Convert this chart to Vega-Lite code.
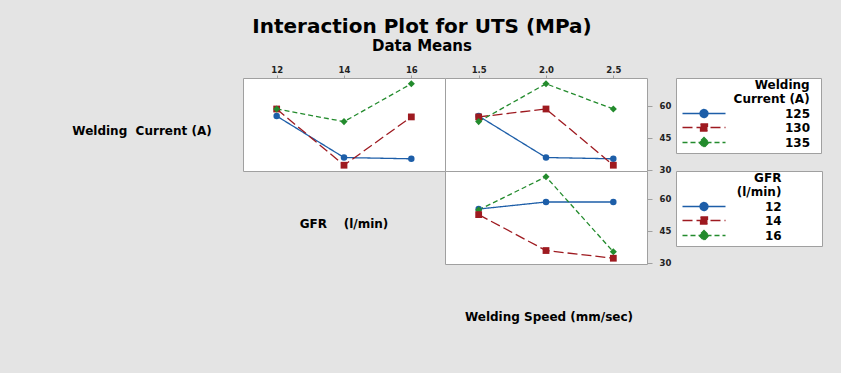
{
  "$schema": "https://vega.github.io/schema/vega-lite/v6.json",
  "background": "#e4e4e4",
  "padding": {"left": 41, "top": 16, "right": 18, "bottom": 16},
  "title": {
    "text": "Interaction Plot for UTS (MPa)",
    "subtitle": "Data Means",
    "anchor": "middle",
    "dx": -10,
    "offset": 10.5,
    "font": "DejaVu Sans",
    "fontSize": 20,
    "fontWeight": "bold",
    "color": "#000000",
    "subtitleFont": "DejaVu Sans",
    "subtitleFontSize": 15,
    "subtitleFontWeight": "bold",
    "subtitleColor": "#000000",
    "subtitlePadding": 2.5
  },
  "data": {
    "values": [
      {"current": 125, "gfr": 12, "speed": 1.5, "uts": 55.2},
      {"current": 125, "gfr": 14, "speed": 2.0, "uts": 35.8},
      {"current": 125, "gfr": 16, "speed": 2.5, "uts": 35.2},
      {"current": 130, "gfr": 12, "speed": 2.0, "uts": 58.5},
      {"current": 130, "gfr": 14, "speed": 2.5, "uts": 32.2},
      {"current": 130, "gfr": 16, "speed": 1.5, "uts": 54.8},
      {"current": 135, "gfr": 12, "speed": 2.5, "uts": 58.5},
      {"current": 135, "gfr": 14, "speed": 1.5, "uts": 52.6},
      {"current": 135, "gfr": 16, "speed": 2.0, "uts": 70.3}
    ]
  },
  "columns": 3,
  "spacing": 0,
  "bounds": "flush",
  "concat": [
    {
      "width": 202, "height": 93,
      "data": {"values": [{"name": "Welding\u00a0\u00a0Current (A)"}]},
      "mark": {"type": "text", "font": "DejaVu Sans", "fontSize": 12, "fontWeight": "bold", "color": "#000000", "dy": 6},
      "encoding": {"text": {"field": "name"}}
    },
    {
      "width": 202, "height": 93,
      "view": {"fill": "white", "stroke": "#a0a0a0"},
      "encoding": {
        "x": {"field": "gfr", "type": "ordinal", "axis": {"orient": "top", "labelAngle": 0, "tickSize": 3, "labelPadding": 1}},
        "y": {"field": "uts", "type": "quantitative", "scale": {"domain": [29.5, 73], "nice": false, "zero": false}, "axis": null},
        "color": {"field": "current", "type": "nominal", "scale": {"domain": [125, 130, 135], "range": ["#1d5ea8", "#9e1a20", "#238b2d"]}, "legend": null}
      },
      "layer": [
        {
          "mark": {"type": "line", "strokeWidth": 1.3},
          "encoding": {"strokeDash": {"field": "current", "type": "nominal", "scale": {"domain": [125, 130, 135], "range": [[1, 0], [10, 4], [5, 3]]}, "legend": null}}
        },
        {
          "mark": {"type": "point", "filled": true, "opacity": 1},
          "encoding": {
            "shape": {"field": "current", "type": "nominal", "scale": {"domain": [125, 130, 135], "range": ["circle", "square", "diamond"]}, "legend": null},
            "size": {"field": "current", "type": "nominal", "scale": {"domain": [125, 130, 135], "range": [42, 50, 85]}, "legend": null}
          }
        }
      ]
    },
    {
      "width": 202, "height": 93,
      "view": {"fill": "white", "stroke": "#a0a0a0"},
      "encoding": {
        "x": {"field": "speed", "type": "ordinal", "axis": {"orient": "top", "labelAngle": 0, "tickSize": 3, "labelPadding": 1, "labelExpr": "format(datum.value, '.1f')"}},
        "y": {"field": "uts", "type": "quantitative", "scale": {"domain": [29.5, 73], "nice": false, "zero": false}, "axis": {"orient": "right", "values": [30, 45, 60], "tickSize": 5, "labelPadding": 7}}
      },
      "layer": [
        {
          "mark": {"type": "line", "strokeWidth": 1.3},
          "encoding": {
            "color": {"field": "current", "type": "nominal", "scale": {"domain": [125, 130, 135], "range": ["#1d5ea8", "#9e1a20", "#238b2d"]}, "legend": null},
            "strokeDash": {"field": "current", "type": "nominal", "scale": {"domain": [125, 130, 135], "range": [[1, 0], [10, 4], [5, 3]]}, "legend": null}
          }
        },
        {
          "mark": {"type": "point", "filled": true, "opacity": 1},
          "encoding": {
            "color": {"field": "current", "type": "nominal", "scale": {"domain": [125, 130, 135], "range": ["#1d5ea8", "#9e1a20", "#238b2d"]}, "legend": null},
            "shape": {"field": "current", "type": "nominal", "scale": {"domain": [125, 130, 135], "range": ["circle", "square", "diamond"]}, "legend": null},
            "size": {"field": "current", "type": "nominal", "scale": {"domain": [125, 130, 135], "range": [42, 50, 85]}, "legend": null}
          }
        },
        {
          "description": "legend key: line with marker for each current level",
          "mark": {"type": "point", "opacity": 0},
          "encoding": {
            "fill": {"field": "current", "type": "nominal", "scale": {"domain": [125, 130, 135], "range": ["#1d5ea8", "#9e1a20", "#238b2d"]}, "legend": {"title": ["Welding\u00a0\u00a0\u200b", "Current (A)\u00a0\u00a0\u200b"], "labelOffset": 75, "labelExpr": "datum.label + '\u00a0\u00a0\u200b'"}},
            "stroke": {"field": "current", "type": "nominal", "scale": {"domain": [125, 130, 135], "range": ["#1d5ea8", "#9e1a20", "#238b2d"]}, "legend": {"title": ["Welding\u00a0\u00a0\u200b", "Current (A)\u00a0\u00a0\u200b"], "labelOffset": 75, "labelExpr": "datum.label + '\u00a0\u00a0\u200b'"}},
            "shape": {"field": "current", "type": "nominal", "scale": {"domain": [125, 130, 135], "range": ["M-4.3,0H4.3M0.8,0A0.8,0.8,0,1,1,-0.8,0A0.8,0.8,0,1,1,0.8,0Z", "M-4.3,0H4.3M-0.7,-0.7H0.7V0.7H-0.7Z", "M-4.3,0H4.3M0,-1L1,0L0,1L-1,0Z"]}, "legend": {"title": ["Welding\u00a0\u00a0\u200b", "Current (A)\u00a0\u00a0\u200b"], "labelOffset": 75, "labelExpr": "datum.label + '\u00a0\u00a0\u200b'"}},
            "strokeDash": {"field": "current", "type": "nominal", "scale": {"domain": [125, 130, 135], "range": [[1, 0], [10, 4], [5, 3]]}, "legend": {"title": ["Welding\u00a0\u00a0\u200b", "Current (A)\u00a0\u00a0\u200b"], "labelOffset": 75, "labelExpr": "datum.label + '\u00a0\u00a0\u200b'"}}
          }
        }
      ],
      "resolve": {"scale": {"color": "independent", "fill": "independent", "stroke": "independent", "shape": "independent", "strokeDash": "independent", "size": "independent"}}
    },
    {
      "width": 202, "height": 93,
      "data": {"values": [{"name": ""}]},
      "mark": "text",
      "encoding": {"text": {"field": "name"}}
    },
    {
      "width": 202, "height": 93,
      "data": {"values": [{"name": "GFR\u00a0\u00a0\u00a0\u00a0(l/min)"}]},
      "mark": {"type": "text", "font": "DejaVu Sans", "fontSize": 12, "fontWeight": "bold", "color": "#000000", "dy": 6},
      "encoding": {"text": {"field": "name"}}
    },
    {
      "width": 202, "height": 93,
      "view": {"fill": "white", "stroke": "#a0a0a0"},
      "encoding": {
        "x": {"field": "speed", "type": "ordinal", "axis": null},
        "y": {"field": "uts", "type": "quantitative", "scale": {"domain": [29.5, 73], "nice": false, "zero": false}, "axis": {"orient": "right", "values": [30, 45, 60], "tickSize": 5, "labelPadding": 7}}
      },
      "layer": [
        {
          "mark": {"type": "line", "strokeWidth": 1.3},
          "encoding": {
            "color": {"field": "gfr", "type": "nominal", "scale": {"domain": [12, 14, 16], "range": ["#1d5ea8", "#9e1a20", "#238b2d"]}, "legend": null},
            "strokeDash": {"field": "gfr", "type": "nominal", "scale": {"domain": [12, 14, 16], "range": [[1, 0], [10, 4], [5, 3]]}, "legend": null}
          }
        },
        {
          "mark": {"type": "point", "filled": true, "opacity": 1},
          "encoding": {
            "color": {"field": "gfr", "type": "nominal", "scale": {"domain": [12, 14, 16], "range": ["#1d5ea8", "#9e1a20", "#238b2d"]}, "legend": null},
            "shape": {"field": "gfr", "type": "nominal", "scale": {"domain": [12, 14, 16], "range": ["circle", "square", "diamond"]}, "legend": null},
            "size": {"field": "gfr", "type": "nominal", "scale": {"domain": [12, 14, 16], "range": [42, 50, 85]}, "legend": null}
          }
        },
        {
          "description": "legend key: line with marker for each gas flow rate",
          "mark": {"type": "point", "opacity": 0},
          "encoding": {
            "fill": {"field": "gfr", "type": "nominal", "scale": {"domain": [12, 14, 16], "range": ["#1d5ea8", "#9e1a20", "#238b2d"]}, "legend": {"title": ["GFR\u00a0\u00a0\u00a0\u00a0\u00a0\u00a0\u00a0\u00a0\u00a0\u200b", "(l/min)\u00a0\u00a0\u00a0\u00a0\u00a0\u00a0\u00a0\u00a0\u00a0\u200b"], "labelOffset": 55, "labelExpr": "datum.label + '\u00a0\u00a0\u00a0\u00a0\u00a0\u00a0\u00a0\u00a0\u00a0\u200b'"}},
            "stroke": {"field": "gfr", "type": "nominal", "scale": {"domain": [12, 14, 16], "range": ["#1d5ea8", "#9e1a20", "#238b2d"]}, "legend": {"title": ["GFR\u00a0\u00a0\u00a0\u00a0\u00a0\u00a0\u00a0\u00a0\u00a0\u200b", "(l/min)\u00a0\u00a0\u00a0\u00a0\u00a0\u00a0\u00a0\u00a0\u00a0\u200b"], "labelOffset": 55, "labelExpr": "datum.label + '\u00a0\u00a0\u00a0\u00a0\u00a0\u00a0\u00a0\u00a0\u00a0\u200b'"}},
            "shape": {"field": "gfr", "type": "nominal", "scale": {"domain": [12, 14, 16], "range": ["M-4.3,0H4.3M0.8,0A0.8,0.8,0,1,1,-0.8,0A0.8,0.8,0,1,1,0.8,0Z", "M-4.3,0H4.3M-0.7,-0.7H0.7V0.7H-0.7Z", "M-4.3,0H4.3M0,-1L1,0L0,1L-1,0Z"]}, "legend": {"title": ["GFR\u00a0\u00a0\u00a0\u00a0\u00a0\u00a0\u00a0\u00a0\u00a0\u200b", "(l/min)\u00a0\u00a0\u00a0\u00a0\u00a0\u00a0\u00a0\u00a0\u00a0\u200b"], "labelOffset": 55, "labelExpr": "datum.label + '\u00a0\u00a0\u00a0\u00a0\u00a0\u00a0\u00a0\u00a0\u00a0\u200b'"}},
            "strokeDash": {"field": "gfr", "type": "nominal", "scale": {"domain": [12, 14, 16], "range": [[1, 0], [10, 4], [5, 3]]}, "legend": {"title": ["GFR\u00a0\u00a0\u00a0\u00a0\u00a0\u00a0\u00a0\u00a0\u00a0\u200b", "(l/min)\u00a0\u00a0\u00a0\u00a0\u00a0\u00a0\u00a0\u00a0\u00a0\u200b"], "labelOffset": 55, "labelExpr": "datum.label + '\u00a0\u00a0\u00a0\u00a0\u00a0\u00a0\u00a0\u00a0\u00a0\u200b'"}}
          }
        }
      ],
      "resolve": {"scale": {"color": "independent", "fill": "independent", "stroke": "independent", "shape": "independent", "strokeDash": "independent", "size": "independent"}}
    },
    {
      "width": 202, "height": 93,
      "data": {"values": [{"name": ""}]},
      "mark": "text",
      "encoding": {"text": {"field": "name"}}
    },
    {
      "width": 202, "height": 93,
      "data": {"values": [{"name": ""}]},
      "mark": "text",
      "encoding": {"text": {"field": "name"}}
    },
    {
      "width": 202, "height": 93,
      "data": {"values": [{"name": "Welding Speed (mm/sec)"}]},
      "mark": {"type": "text", "font": "DejaVu Sans", "fontSize": 12, "fontWeight": "bold", "color": "#000000", "dy": 6, "dx": 3},
      "encoding": {"text": {"field": "name"}}
    }
  ],
  "resolve": {
    "scale": {"color": "independent", "fill": "independent", "stroke": "independent", "shape": "independent", "size": "independent", "strokeDash": "independent", "x": "independent", "y": "independent"},
    "legend": {"color": "independent", "fill": "independent", "stroke": "independent", "shape": "independent", "strokeDash": "independent"}
  },
  "config": {
    "view": {"stroke": null},
    "font": "DejaVu Sans",
    "axis": {
      "title": null,
      "domain": false,
      "grid": false,
      "labelFont": "DejaVu Sans",
      "labelFontWeight": "bold",
      "labelFontSize": 8.5,
      "labelColor": "#222222",
      "tickColor": "#a0a0a0"
    },
    "legend": {
      "orient": "right",
      "offset": 5,
      "padding": 2,
      "fillColor": "white",
      "strokeColor": "#a0a0a0",
      "titleAnchor": "end",
      "titleAlign": "right",
      "titleFont": "DejaVu Sans",
      "titleFontSize": 12,
      "titleFontWeight": "bold",
      "titleColor": "#000000",
      "titleLineHeight": 14,
      "titlePadding": 1.5,
      "labelFont": "DejaVu Sans",
      "labelFontSize": 12,
      "labelFontWeight": "bold",
      "labelColor": "#000000",
      "symbolSize": 100,
      "symbolOffset": 20,
      "symbolStrokeWidth": 1.3,
      "symbolOpacity": 1,
      "rowPadding": 0
    }
  }
}
